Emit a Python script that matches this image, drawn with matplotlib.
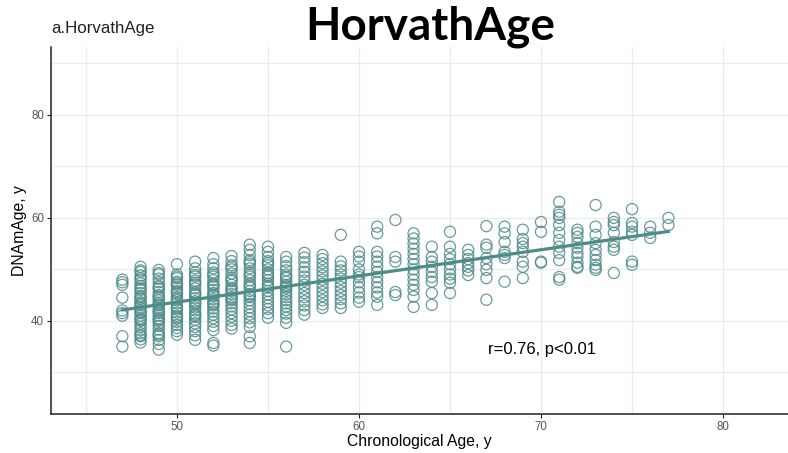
import numpy as np
import matplotlib
matplotlib.use("Agg")
import matplotlib.pyplot as plt
from matplotlib.ticker import MultipleLocator

ages = list(range(47, 78))
dnam = {
    47: [48, 47.5, 47, 44.5, 42, 41.5, 41, 37, 35],
    48: [50.5, 49.8, 49.5, 48.8, 48.3, 48, 47.3, 46.8, 46.3, 46, 45.4, 44.8, 44.5, 44.2, 43.6, 43.3, 43, 42.5, 42, 41.7, 41.5, 41, 40.5, 40.2, 40, 39.4, 38.8, 38.2, 37.6, 37.2, 37, 36.4, 35.8],
    49: [49.9, 49.3, 49, 48.2, 47.5, 46.8, 46.5, 46.2, 45.6, 45, 44.7, 44.5, 44, 43.5, 43.2, 43, 42.5, 42, 41.8, 41.5, 41, 40.5, 40.2, 40, 39.5, 39, 38.3, 37.6, 37.3, 37, 36.3, 35.5, 34.4],
    50: [51, 49, 48.6, 48.3, 47.6, 47.3, 47, 46.4, 45.8, 45.5, 45.2, 44.6, 44.3, 44, 43.4, 42.8, 42.5, 42.2, 41.6, 41, 40.7, 40.4, 39.8, 39.2, 38.6, 38, 37.3],
    51: [51.5, 50.2, 49.4, 48.9, 48.6, 47.8, 47.4, 47, 46.3, 45.6, 45.3, 45, 44.4, 43.8, 43.5, 43.2, 42.6, 42, 41.4, 41.1, 40.8, 40.2, 39.5, 38.8, 38, 37.2, 36.3],
    52: [52.2, 51, 50.2, 49.4, 49, 48.6, 47.9, 47.2, 46.9, 46.6, 46, 45.4, 45.1, 44.8, 44.2, 43.6, 43.3, 43, 42.4, 41.8, 41.2, 40.5, 39.8, 39, 38.2, 35.7, 35.2],
    53: [52.6, 51.6, 50.8, 50.4, 50, 49.2, 48.4, 48, 47.7, 47, 46.4, 46.1, 45.8, 45.2, 44.6, 44.3, 44, 43.4, 42.8, 42.2, 41.5, 40.8, 40, 39.2, 38.5],
    54: [54.8, 53.8, 52.8, 51.8, 51.4, 51, 50.2, 49.4, 49, 48.6, 47.9, 47.2, 46.8, 46.5, 45.8, 45.2, 44.9, 44.6, 44, 43.3, 42.6, 41.9, 41.2, 40.5, 39.7, 38.8, 37, 35.7],
    55: [54.4, 53.4, 52.4, 51.6, 51.2, 50.8, 50, 49.3, 48.9, 48.6, 47.9, 47.2, 46.8, 46.5, 45.8, 45.1, 44.4, 43.7, 43, 42.3, 41.5, 40.6],
    56: [52.4, 51.5, 50.6, 49.8, 49, 48.6, 48.3, 47.6, 47, 46.7, 46.4, 45.8, 45.2, 44.6, 44, 43.4, 42.8, 42.1, 41.4, 40.6, 39.6, 35],
    57: [53.2, 52.3, 51.4, 50.4, 49.5, 48.6, 47.8, 47, 46.2, 45.4, 44.6, 43.8, 43, 42.1, 41.2],
    58: [52.8, 52, 51.2, 50.4, 49.6, 48.8, 48, 47.2, 46.4, 45.6, 44.8, 44, 43.2, 42.5],
    59: [56.7, 51.5, 50.6, 49.8, 49, 48.2, 47.4, 46.6, 45.8, 45, 44.2, 43.4, 42.5],
    60: [53.4, 52.5, 51.5, 50, 49, 48.5, 47.5, 46.5, 45.5, 44.5, 43.7],
    61: [58.3, 57, 53.4, 52.5, 51.5, 50.5, 49.5, 48.5, 47.5, 46.5, 45.5, 44.7, 43.1],
    62: [59.6, 52.4, 51.5, 45.6, 45],
    63: [57, 56, 55, 54, 53, 52, 51, 50, 49, 48, 47, 46, 44.7, 42.7],
    64: [54.4, 52.4, 51.5, 50.5, 49.5, 48.5, 47.6, 45.4, 43.1],
    65: [57.3, 54.4, 53, 52, 51, 50, 49, 48.2, 47.4, 45.4],
    66: [53.8, 52.8, 52, 51.2, 50.5, 49.8, 48.9],
    67: [58.4, 54.8, 54.2, 52.2, 51, 49.9, 48.3, 44.1],
    68: [58.3, 57, 55.3, 53.4, 52.8, 52.2, 47.6],
    69: [57.7, 55.9, 55.1, 54.4, 53.4, 51.5, 50.5, 48.3],
    70: [59.2, 57.3, 51.5, 51.3],
    71: [63.1, 61.2, 60.6, 60, 58.6, 57.1, 55.7, 54.4, 53.2, 51.8, 48.5, 48],
    72: [57.7, 57.1, 56.3, 55.1, 54.2, 53.2, 52.4, 51.3, 50.5, 50.3],
    73: [62.5, 58.3, 56.7, 55.1, 53.8, 52.8, 51.8, 50.9, 50.3, 49.9],
    74: [60, 59.2, 58.6, 57.1, 55.3, 54.4, 53.8, 49.3],
    75: [61.7, 59, 58.3, 57.3, 56.7, 51.5, 50.9],
    76: [58.3, 57.1, 56.1],
    77: [60, 58.6],
}

x = np.concatenate([[a] * len(dnam[a]) for a in ages]).astype(float)
y = np.concatenate([dnam[a] for a in ages]).astype(float)

xticks = [50, 60, 70, 80]
yticks = [40, 60, 80]

teal = "#4e8c8a"
plt.rcParams['font.family'] = ['Liberation Sans', 'DejaVu Sans']

fig = plt.figure(figsize=(7.88, 4.53), dpi=100)
ax = fig.add_axes([51/788, 39/453, 1 - 51/788, (414 - 47)/453])

ax.set_xlim(43.08, 83.57)
ax.set_ylim(21.9, 93.2)
ax.xaxis.set_minor_locator(MultipleLocator(5))
ax.yaxis.set_minor_locator(MultipleLocator(10))
ax.set_xticks(xticks)
ax.set_yticks(yticks)
ax.grid(which='both', color='#ebebeb', linewidth=0.9)
ax.set_axisbelow(True)

ax.scatter(x, y, s=64, facecolors='none', edgecolors=teal, linewidths=0.9, alpha=0.85, zorder=3)

coef = np.polyfit(x, y, 1)
xl = np.array([x.min(), x.max()])
ax.plot(xl, np.polyval(coef, xl), color=teal, linewidth=2.3, zorder=4)

for s in ['top', 'right']:
    ax.spines[s].set_visible(False)
for s in ['left', 'bottom']:
    ax.spines[s].set_linewidth(1.1)
    ax.spines[s].set_color('#222222')
ax.tick_params(which='major', length=3, width=0.8, colors='#222222', labelcolor='#555555', labelsize=8.3, pad=2)
ax.tick_params(which='minor', length=0)

ax.set_xlabel('Chronological Age, y', fontsize=11.3, labelpad=1)
ax.set_ylabel('DNAmAge, y', fontsize=11.3, labelpad=3)

ax.text(67.1, 34.5, 'r=0.76, p<0.01', fontsize=12, ha='left', va='center')

fig.text(51/788, 1 - 29/453, 'a.HorvathAge', fontsize=12.2, ha='left', va='center', color='#222222')
fig.text(430/788, 1 - 27/453, 'HorvathAge', fontsize=33, fontweight='bold', ha='center', va='center', family=['Lato', 'DejaVu Sans'])

fig.savefig('out.png', dpi=100)
